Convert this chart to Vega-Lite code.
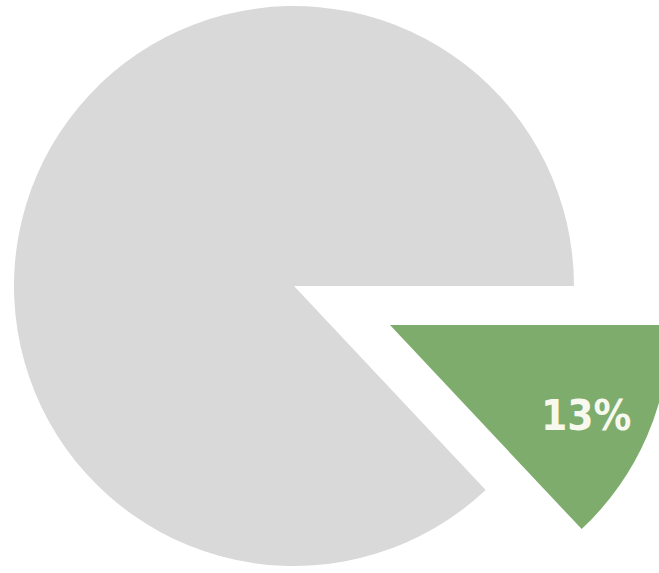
{
  "$schema": "https://vega.github.io/schema/vega-lite/v6.json",
  "width": 588,
  "height": 572,
  "autosize": "none",
  "padding": {"left": 0, "right": 71, "top": 0, "bottom": 1},
  "background": "white",
  "view": {"stroke": null},
  "data": {
    "values": [
      {"category": "Highlighted", "value": 13, "order": 1, "label": "13%"},
      {"category": "Rest", "value": 87, "order": 2, "label": ""}
    ]
  },
  "encoding": {
    "theta": {"field": "value", "type": "quantitative", "stack": true, "scale": {"range": [1.5708, 7.854]}},
    "order": {"field": "order", "type": "quantitative"}
  },
  "layer": [
    {
      "mark": {"type": "arc", "outerRadius": 280, "fill": "#d9d9d9"},
      "encoding": {
        "opacity": {"condition": {"test": "datum.category === 'Rest'", "value": 1}, "value": 0}
      }
    },
    {
      "mark": {"type": "arc", "outerRadius": 280, "fill": "#7eac6d", "xOffset": 96, "yOffset": 39},
      "encoding": {
        "opacity": {"condition": {"test": "datum.category === 'Highlighted'", "value": 1}, "value": 0}
      }
    },
    {
      "mark": {"type": "text", "radius": 216, "xOffset": 94, "yOffset": 45, "font": "'DejaVu Sans Condensed', 'Liberation Sans Narrow', Roboto, sans-serif", "fontWeight": "bold", "fontSize": 42, "fill": "#f7f9ee", "align": "center", "baseline": "middle"},
      "encoding": {
        "text": {"field": "label", "type": "nominal"}
      }
    }
  ]
}
